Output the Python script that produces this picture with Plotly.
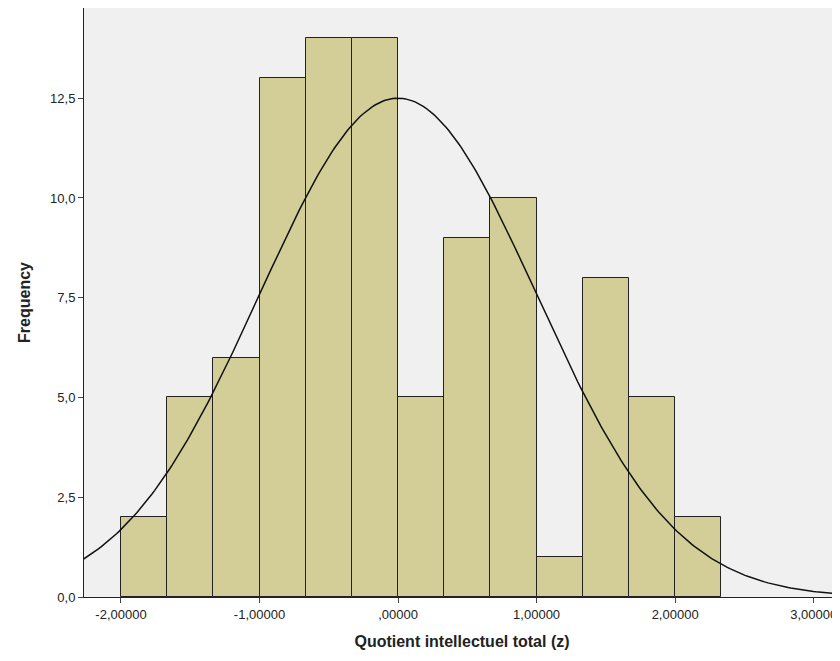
import numpy as np
import plotly.graph_objects as go

bin_starts = [-2.0 + i / 3 for i in range(13)]
counts = [2, 5, 6, 13, 14, 14, 5, 9, 10, 1, 8, 5, 2]
bin_width = 1 / 3
mean, sd, n = 0.0, 1.0, 94

x_ticks = [-2, -1, 0, 1, 2, 3]
x_labels = ["-2,00000", "-1,00000", ",00000", "1,00000", "2,00000", "3,00000"]
y_ticks = [0, 2.5, 5, 7.5, 10, 12.5]
y_labels = ["0,0", "2,5", "5,0", "7,5", "10,0", "12,5"]

fig = go.Figure()
fig.add_trace(go.Bar(
    x=[s + bin_width / 2 for s in bin_starts], y=counts, width=bin_width,
    marker=dict(color="#d3ce97", line=dict(color="#222222", width=1)),
))
xs = np.linspace(-2.27, 3.2, 300)
ys = n * bin_width / (sd * np.sqrt(2 * np.pi)) * np.exp(-0.5 * ((xs - mean) / sd) ** 2)
fig.add_trace(go.Scatter(x=xs, y=ys, mode="lines", line=dict(color="#111111", width=1.5)))

fig.update_layout(
    width=832, height=653, showlegend=False,
    margin=dict(l=76, r=0, t=0, b=64),
    paper_bgcolor="white", plot_bgcolor="#f0f0f0",
    font=dict(family="Liberation Sans, Arial", size=13, color="#222222"),
    bargap=0,
)
fig.update_xaxes(range=[-2.267, 3.19], tickvals=x_ticks, ticktext=x_labels,
                 showgrid=False, zeroline=False, ticks="outside", ticklen=5,
                 showline=True, linecolor="#222222",
                 title=dict(text="<b>Quotient intellectuel total (z)</b>", font=dict(size=16)))
fig.update_yaxes(range=[0, 14.76], tickvals=y_ticks, ticktext=y_labels,
                 showgrid=False, zeroline=False, ticks="outside", ticklen=5,
                 showline=True, linecolor="#222222", mirror=True,
                 title=dict(text="<b>Frequency</b>", font=dict(size=16)))
fig.write_html("out.html")
